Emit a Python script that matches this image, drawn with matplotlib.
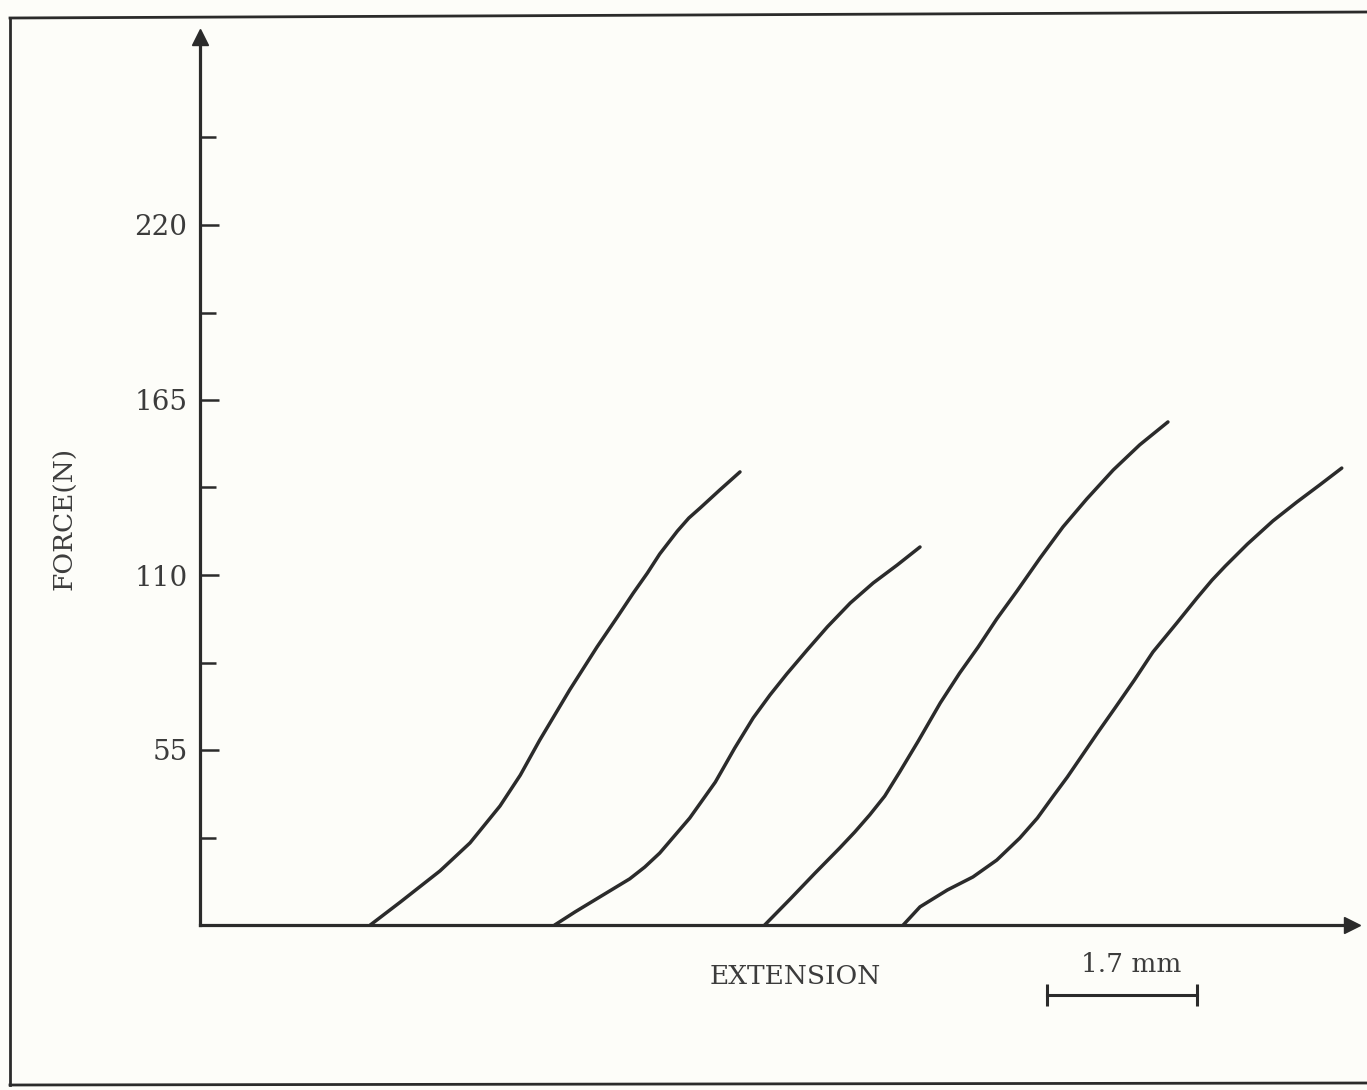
import matplotlib
matplotlib.use("Agg")
import matplotlib.pyplot as plt
from matplotlib.lines import Line2D

# Force-extension traces (extension in mm, force in N)
ext_1 = [1.93, 2.27, 2.72, 3.06, 3.40, 3.63, 3.85, 4.19, 4.50, 4.73, 4.91, 5.07, 5.21,
         5.41, 5.54, 5.67, 5.89, 6.12]
force_1 = [0.0, 7.2, 17.0, 25.8, 37.4, 47.1, 58.1, 73.9, 87.4, 96.8, 104.3, 110.6, 116.6,
           123.8, 127.9, 131.1, 136.7, 142.4]

ext_2 = [4.02, 4.25, 4.53, 4.87, 5.04, 5.21, 5.55, 5.84, 6.06, 6.27, 6.46, 6.65, 6.88,
         7.11, 7.37, 7.63, 7.90, 8.16]
force_2 = [0.0, 4.1, 8.8, 14.5, 18.2, 22.6, 33.6, 44.9, 55.6, 65.1, 72.3, 78.9, 86.4,
           93.7, 101.2, 107.5, 113.1, 118.8]

ext_3 = [6.40, 6.69, 6.97, 7.25, 7.42, 7.59, 7.76, 7.93, 8.14, 8.39, 8.61, 8.82, 9.03,
         9.26, 9.52, 9.78, 10.05, 10.35, 10.65, 10.97]
force_3 = [0.0, 8.2, 16.3, 24.2, 29.2, 34.6, 40.5, 48.1, 57.8, 69.8, 79.2, 87.4, 96.2,
           105.0, 115.3, 125.1, 133.9, 143.0, 150.9, 158.1]

ext_4 = [7.97, 8.16, 8.47, 8.76, 9.03, 9.29, 9.49, 9.67, 9.83, 10.00, 10.18, 10.37,
         10.59, 10.80, 11.07, 11.30, 11.47, 11.62, 11.87, 12.16, 12.43, 12.69, 12.94]
force_4 = [0.0, 5.7, 11.0, 15.1, 20.4, 27.3, 33.6, 40.5, 46.5, 53.4, 60.7, 68.2,
           77.0, 85.8, 94.9, 102.8, 108.4, 112.8, 119.7, 127.0, 132.9, 138.3, 143.6]

major_ticks = [55, 110, 165, 220]
major_labels = ["55", "110", "165", "220"]
minor_ticks = [27.5, 82.5, 137.5, 192.5, 247.5]

scale_start = 9.6   # mm, left end of the scale bar
scale_len = 1.7     # mm
scale_text = "1.7 mm"

INK = "#2b2b2b"
TEXT = "#3c3c3c"
PAPER = "#fdfdf9"
FONT = "DejaVu Serif"

W, H = 1367, 1090
fig = plt.figure(figsize=(W / 100, H / 100), dpi=100, facecolor=PAPER)

# axes box in pixels: x from 200 to 1352, y from 925 (zero) up to 37
x0, x1, y0, y1 = 200, 1352, 925, 37
ax = fig.add_axes([x0 / W, (H - y0) / H, (x1 - x0) / W, (y0 - y1) / H])
ax.set_facecolor("none")
ax.set_xlim(0, (x1 - x0) / 88.235)
ax.set_ylim(0, (y0 - y1) * 55 / 175)

for s in ("top", "right"):
    ax.spines[s].set_visible(False)
for s in ("left", "bottom"):
    ax.spines[s].set_color(INK)
    ax.spines[s].set_linewidth(2.3)

ax.set_xticks([])
ax.set_yticks(major_ticks)
ax.set_yticklabels(major_labels, fontfamily=FONT, fontsize=20, color=TEXT)
ax.set_yticks(minor_ticks, minor=True)
ax.tick_params(axis="y", which="major", direction="in", length=14, width=1.8,
               color=INK, pad=9)
ax.tick_params(axis="y", which="minor", direction="in", length=11.5, width=1.8,
               color=INK)

# arrow heads on the axes
ax.plot([0], [1], marker="^", markersize=12, color=INK,
        transform=ax.transAxes, clip_on=False)
ax.plot([1], [0], marker=">", markersize=12, color=INK,
        transform=ax.transAxes, clip_on=False)

for xs, ys in ((ext_1, force_1), (ext_2, force_2), (ext_3, force_3), (ext_4, force_4)):
    ax.plot(xs, ys, color=INK, lw=2.5, solid_capstyle="round", solid_joinstyle="round")

# axis titles
fig.text(65 / W, 1 - 518 / H, "FORCE(N)", rotation=90, ha="center", va="center",
         fontsize=19, color=TEXT, family=FONT)
fig.text(795 / W, 1 - 977 / H, "EXTENSION", ha="center", va="center",
         fontsize=19, color=TEXT, family=FONT)

# scale bar
bar_y = -22.0
ax.plot([scale_start, scale_start + scale_len], [bar_y, bar_y], color=INK, lw=2.2,
        clip_on=False)
ax.plot([scale_start, scale_start + scale_len], [bar_y, bar_y], ls="none",
        marker="|", markersize=16, mew=2.2, color=INK, clip_on=False)
ax.text(scale_start + scale_len / 2 + 0.1, bar_y + 5.5, scale_text, ha="center",
        va="bottom", fontsize=19, color=TEXT, family=FONT)

# outer frame
frame_kw = dict(color=INK, lw=2.0, transform=fig.transFigure)
fig.add_artist(Line2D([10 / W, 10 / W], [1 - 1085 / H, 1 - 18 / H], **frame_kw))
fig.add_artist(Line2D([10 / W, 1.0], [1 - 18 / H, 1 - 12 / H], **frame_kw))
fig.add_artist(Line2D([10 / W, 1.0], [1 - 1085 / H, 1 - 1083 / H], **frame_kw))

fig.savefig("out.png", dpi=100, facecolor=PAPER)
